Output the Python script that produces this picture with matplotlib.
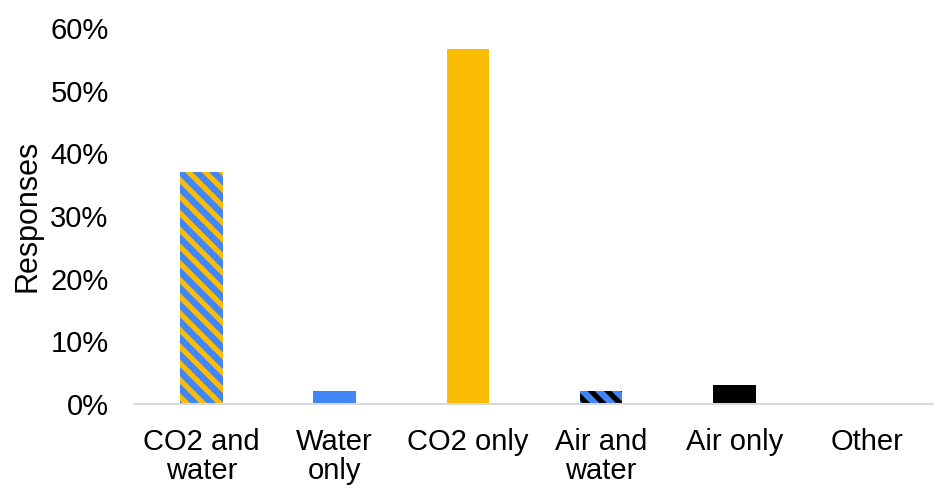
import matplotlib
matplotlib.use("Agg")
import matplotlib.pyplot as plt
from matplotlib.ticker import PercentFormatter

plt.rcParams['font.family'] = ['Liberation Sans', 'DejaVu Sans']
plt.rcParams['hatch.linewidth'] = 3.8

categories = ["CO2 and\nwater", "Water\nonly", "CO2 only", "Air and\nwater", "Air only", "Other"]
values = [37.0, 2.0, 56.6, 2.0, 3.0, 0.0]
face_colors = ["#4285F4", "#4285F4", "#FBBC04", "#4285F4", "#000000", "#4285F4"]
stripe_colors = ["#FBBC04", None, None, "#000000", None, None]
y_ticks = [0, 10, 20, 30, 40, 50, 60]

W, H = 934, 486
fig = plt.figure(figsize=(W / 100, H / 100), dpi=100)
ax = fig.add_axes([135 / W, 1 - 404 / H, (934 - 135) / W, (404 - 28) / H])

x = range(len(categories))
for xi, v, fc, sc in zip(x, values, face_colors, stripe_colors):
    if sc is None:
        ax.bar(xi, v, width=0.32, color=fc, linewidth=0)
    else:
        ax.bar(xi, v, width=0.32, facecolor=fc, edgecolor=sc, hatch="\\\\", linewidth=0)

ax.set_xlim(-0.5, len(categories) - 0.5)
ax.set_ylim(0, 60)
ax.set_yticks(y_ticks)
ax.yaxis.set_major_formatter(PercentFormatter(decimals=0))
ax.set_xticks(list(x))
ax.set_xticklabels(categories, fontsize=21, linespacing=1.08)
ax.tick_params(axis='y', labelsize=21, length=0, pad=19)
ax.tick_params(axis='x', length=0, pad=17)
ax.set_ylabel("Responses", fontsize=22, labelpad=6)

for side in ("top", "right", "left"):
    ax.spines[side].set_visible(False)
ax.spines["bottom"].set_color("#d9d9d9")
ax.spines["bottom"].set_linewidth(1.5)

fig.savefig("out.png", dpi=100)
